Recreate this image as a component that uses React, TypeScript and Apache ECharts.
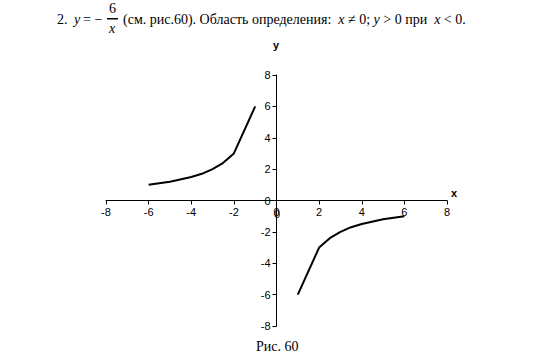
import React, { useEffect, useRef } from "react";
import * as echarts from "echarts";

const leftX = [-6, -5, -4, -3.5, -3, -2.5, -2, -1];
const leftY = [1, 1.2, 1.5, 1.7, 2, 2.4, 3, 6];
const rightX = [1, 2, 2.5, 3, 3.5, 4, 5, 6];
const rightY = [-6, -3, -2.4, -2, -1.7, -1.5, -1.2, -1];
const axisMin = -8;
const axisMax = 8;
const axisStep = 2;

const serif = "'Liberation Serif', 'Times New Roman', serif";
const sans = "'Liberation Sans', Arial, sans-serif";

export default function App() {
  const ref = useRef<HTMLDivElement>(null);
  useEffect(() => {
    if (!ref.current) return;
    const chart = echarts.init(ref.current, undefined, { renderer: "svg" });
    const pair = (xs: number[], ys: number[]) => xs.map((x, i) => [x, ys[i]]);
    const gridLeft = 106, gridRight = 103, gridTop = 75, gridBottom = 33;
    const gw = 550 - gridLeft - gridRight;
    const gh = 359 - gridTop - gridBottom;
    const axisCommon = {
      type: "value",
      min: axisMin,
      max: axisMax,
      interval: axisStep,
      splitLine: { show: false },
      axisLine: { onZero: false, lineStyle: { color: "#000", width: 1 } },
      axisTick: { show: true, length: 4, lineStyle: { color: "#000" } },
      axisLabel: {
        color: "#000",
        fontFamily: sans,
        fontSize: 11,
        interval: 0,
        hideOverlap: false,
        showMinLabel: true,
        showMaxLabel: true,
      },
    };
    chart.setOption({
      animation: false,
      backgroundColor: "#fff",
      grid: { left: gridLeft, right: gridRight, top: gridTop, bottom: gridBottom },
      xAxis: {
        ...axisCommon,
        position: "bottom",
        offset: -gh / 2,
        axisLabel: { ...axisCommon.axisLabel, margin: 6 },
      },
      yAxis: {
        ...axisCommon,
        position: "left",
        offset: -gw / 2,
        axisLabel: { ...axisCommon.axisLabel, margin: 6 },
      },
      series: [
        {
          type: "line",
          data: pair(leftX, leftY),
          showSymbol: false,
          smooth: false,
          lineStyle: { color: "#000", width: 2 },
        },
        {
          type: "line",
          data: pair(rightX, rightY),
          showSymbol: false,
          smooth: false,
          lineStyle: { color: "#000", width: 2 },
        },
      ],
      graphic: [
        { type: "text", left: 57, top: 12, style: { text: "2.", font: `14px ${serif}`, fill: "#000" } },
        { type: "text", left: 74, top: 12, style: { text: "y", font: `italic 14px ${serif}`, fill: "#000" } },
        { type: "text", left: 83, top: 12, style: { text: "= −", font: `14px ${serif}`, fill: "#000" } },
        { type: "text", left: 109, top: 1, style: { text: "6", font: `14px ${serif}`, fill: "#000" } },
        { type: "rect", shape: { x: 107, y: 18, width: 11, height: 1.5 }, style: { fill: "#000" } },
        { type: "text", left: 109, top: 21, style: { text: "x", font: `italic 14px ${serif}`, fill: "#000" } },
        {
          type: "text",
          left: 123,
          top: 12,
          style: {
            text: "(см. рис.60). Область определения:  {i|x} ≠ 0; {i|y} > 0 при  {i|x} < 0.",
            font: `14px ${serif}`,
            fill: "#000",
            rich: { i: { fontStyle: "italic", fontFamily: serif, fontSize: 14 } },
          },
        },
        { type: "text", left: 274, top: 208, style: { text: "0", font: `11px ${sans}`, fill: "#000" } },
        { type: "text", left: 273, top: 39, style: { text: "y", font: `bold 11px ${sans}`, fill: "#000" } },
        { type: "text", left: 451, top: 187, style: { text: "x", font: `bold 11px ${sans}`, fill: "#000" } },
        { type: "text", left: 256, top: 339, style: { text: "Рис. 60", font: `14px ${serif}`, fill: "#000" } },
      ],
    });
    return () => chart.dispose();
  }, []);
  return <div ref={ref} style={{ width: 550, height: 359, position: "absolute", left: 0, top: 0 }} />;
}
